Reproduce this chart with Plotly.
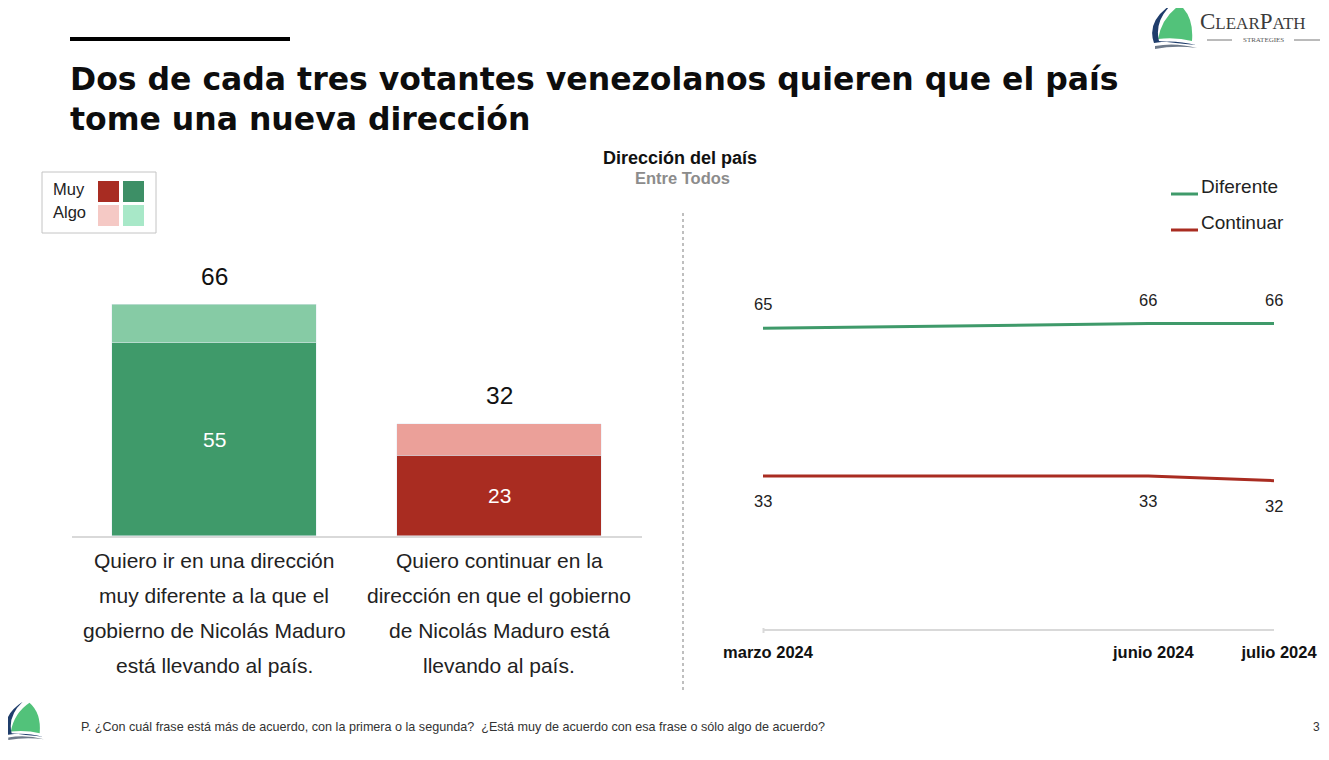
import plotly.graph_objects as go

# ---------------- data ----------------
bar_categories = [
    "Quiero ir en una dirección<br>muy diferente a la que el<br>gobierno de Nicolás Maduro<br>está llevando al país.",
    "Quiero continuar en la<br>dirección en que el gobierno<br>de Nicolás Maduro está<br>llevando al país.",
]
bar_muy = [55, 23]
bar_total = [66, 32]
bar_algo = [t - m for t, m in zip(bar_total, bar_muy)]

line_dates = ["2024-03-01", "2024-06-01", "2024-07-01"]
line_date_labels = ["marzo 2024", "junio 2024", "julio 2024"]
line_diferente = [65, 66, 66]
line_continuar = [33, 33, 32]

title_lines = ["Dos de cada tres votantes venezolanos quieren que el país",
               "tome una nueva dirección"]
chart_title = "Dirección del país"
chart_subtitle = "Entre Todos"
footnote = ("P. ¿Con cuál frase está más de acuerdo, con la primera o la segunda?  "
            "¿Está muy de acuerdo con esa frase o sólo algo de acuerdo?")
page_number = "3"

# ---------------- style ----------------
OFF = 8                       # page body margin
W, H = 1329 - OFF, 760 - OFF
FONT = "Liberation Sans, Arial, sans-serif"
GREEN_D, GREEN_L = "#3f9a6a", "#86cba5"
RED_D, RED_L = "#a92c21", "#eba099"
LEG_GREEN_D, LEG_GREEN_L = "#3d8f66", "#a8e8c8"
LEG_RED_D, LEG_RED_L = "#a82c22", "#f5c9c5"


def px(x):
    return (x - OFF) / W


def py(y):
    return 1 - (y - OFF) / H


def path_px(cmds):
    out = []
    for c in cmds:
        if isinstance(c, str):
            out.append(c)
        else:
            out.append(f"{px(c[0]):.5f},{py(c[1]):.5f}")
    return " ".join(out)


def text_at(x, y, text, size, color="#222", xanchor="center", family=FONT, **kw):
    return dict(x=px(x), y=py(y), xref="paper", yref="paper", text=text, showarrow=False,
                xanchor=xanchor, yanchor="middle", font=dict(family=family, size=size, color=color), **kw)


fig = go.Figure()

# bars
fig.add_trace(go.Bar(x=[0, 1], y=bar_muy, marker_color=[GREEN_D, RED_D],
                     xaxis="x", yaxis="y", showlegend=False, hoverinfo="skip"))
fig.add_trace(go.Bar(x=[0, 1], y=bar_algo, marker_color=[GREEN_L, RED_L],
                     xaxis="x", yaxis="y", showlegend=False, hoverinfo="skip"))

# lines
fig.add_trace(go.Scatter(x=line_dates, y=line_diferente, mode="lines",
                         line=dict(color=GREEN_D, width=3), xaxis="x2", yaxis="y2",
                         showlegend=False, hoverinfo="skip"))
fig.add_trace(go.Scatter(x=line_dates, y=line_continuar, mode="lines",
                         line=dict(color=RED_D, width=3), xaxis="x2", yaxis="y2",
                         showlegend=False, hoverinfo="skip"))

ann = []
# bar labels
for i, (m, t) in enumerate(zip(bar_muy, bar_total)):
    ann.append(dict(x=i, y=t, xref="x", yref="y", text=str(t), showarrow=False,
                    xanchor="center", yanchor="middle",
                    yshift=28, font=dict(family=FONT, size=24.5, color="#111")))
    ann.append(dict(x=i, y=m / 2, xref="x", yref="y", text=str(m), showarrow=False,
                    xanchor="center", yanchor="middle",
                    font=dict(family=FONT, size=21, color="white")))
    for k, line in enumerate(bar_categories[i].split("<br>")):
        ann.append(dict(x=i, y=0, xref="x", yref="y", text=line, showarrow=False,
                        xanchor="center", yanchor="middle", yshift=-(24 + 35.3 * k),
                        font=dict(family=FONT, size=21, color="#222")))

# line labels
for d, v in zip(line_dates, line_diferente):
    ann.append(dict(x=d, y=v, xref="x2", yref="y2", text=str(v), showarrow=False,
                    xanchor="center", yanchor="middle",
                    yshift=24, font=dict(family=FONT, size=16.5, color="#222")))
for d, v in zip(line_dates, line_continuar):
    ann.append(dict(x=d, y=v, xref="x2", yref="y2", text=str(v), showarrow=False,
                    xanchor="center", yanchor="middle",
                    yshift=-25, font=dict(family=FONT, size=16.5, color="#222")))

# titles
TFONT = "DejaVu Sans, sans-serif"
ann.append(text_at(68, 79, "<b>" + title_lines[0] + "</b>", 31.5, "#0d0d0d", "left", TFONT))
ann.append(text_at(68, 119, "<b>" + title_lines[1] + "</b>", 31.5, "#0d0d0d", "left", TFONT))
ann.append(text_at(680, 158, "<b>" + chart_title + "</b>", 18, "#111"))
ann.append(text_at(682, 178, "<b>" + chart_subtitle + "</b>", 16.5, "#8c8c8c"))

# left legend
ann.append(text_at(51, 189, "Muy", 16.5, "#222", "left"))
ann.append(text_at(51, 212, "Algo", 16.5, "#222", "left"))
# right legend
ann.append(text_at(1199, 187, "Diferente", 19, "#222", "left"))
ann.append(text_at(1199, 223, "Continuar", 19, "#222", "left"))

# footer
ann.append(text_at(79, 727, footnote, 12.6, "#333", "left"))
ann.append(text_at(1316, 727, page_number, 12, "#333"))

# logo text
ann.append(text_at(1198, 22,
                   "C<span style='font-size:17px'>LEAR</span>P<span style='font-size:17px'>ATH</span>",
                   23, "#3b3b3b", "left", "Liberation Serif, serif"))
ann.append(text_at(1263, 40, "STRATEGIES", 7, "#555", "center", "Liberation Serif, serif"))

shapes = []
# black rule
shapes.append(dict(type="rect", xref="paper", yref="paper", x0=px(70), x1=px(290), y0=py(41), y1=py(37),
                   fillcolor="#000", line=dict(width=0)))
# dashed separator
shapes.append(dict(type="line", xref="paper", yref="paper", x0=px(683), x1=px(683), y0=py(213), y1=py(690),
                   line=dict(color="#ababab", width=1.5, dash="dot")))
# left legend box and squares
shapes.append(dict(type="rect", xref="paper", yref="paper", x0=px(42), x1=px(156), y0=py(233), y1=py(172),
                   line=dict(color="#c4c4c4", width=1), fillcolor="rgba(0,0,0,0)"))
for (x0, y0, c) in [(98, 181, LEG_RED_D), (123, 181, LEG_GREEN_D), (98, 205, LEG_RED_L), (123, 205, LEG_GREEN_L)]:
    shapes.append(dict(type="rect", xref="paper", yref="paper", x0=px(x0), x1=px(x0 + 21), y0=py(y0 + 21),
                       y1=py(y0), fillcolor=c, line=dict(width=0)))
# right legend lines
shapes.append(dict(type="line", xref="paper", yref="paper", x0=px(1171), x1=px(1198), y0=py(194), y1=py(194),
                   line=dict(color=GREEN_D, width=3)))
shapes.append(dict(type="line", xref="paper", yref="paper", x0=px(1171), x1=px(1198), y0=py(230), y1=py(230),
                   line=dict(color=RED_D, width=3)))
# small tick at the start of the line-chart axis
shapes.append(dict(type="line", xref="paper", yref="paper", x0=px(763.5), x1=px(763.5), y0=py(628), y1=py(633),
                   line=dict(color="#d9d9d9", width=2)))
# STRATEGIES rules
shapes.append(dict(type="line", xref="paper", yref="paper", x0=px(1207), x1=px(1232), y0=py(40), y1=py(40),
                   line=dict(color="#777", width=1)))
shapes.append(dict(type="line", xref="paper", yref="paper", x0=px(1294), x1=px(1320), y0=py(40), y1=py(40),
                   line=dict(color="#777", width=1)))


def logo(ox, oy, s):
    sail = path_px(["M", (ox + 8 * s, oy + 36 * s), "Q", (ox + 12 * s, oy + 14 * s), (ox + 30 * s, oy + 2 * s),
                    "Q", (ox + 44 * s, oy + 14 * s), (ox + 42 * s, oy + 38 * s),
                    "Q", (ox + 26 * s, oy + 34 * s), (ox + 8 * s, oy + 36 * s), "Z"])
    swoosh = path_px(["M", (ox + 22 * s, oy + 1 * s), "Q", (ox - 4 * s, oy + 18 * s), (ox + 4 * s, oy + 40 * s),
                      "Q", (ox + 22 * s, oy + 36 * s), (ox + 46 * s, oy + 42 * s),
                      "Q", (ox + 24 * s, oy + 40 * s), (ox + 9 * s, oy + 38 * s),
                      "Q", (ox + 4 * s, oy + 18 * s), (ox + 22 * s, oy + 1 * s), "Z"])
    swoosh2 = path_px(["M", (ox + 5 * s, oy + 43 * s), "Q", (ox + 25 * s, oy + 39 * s), (ox + 47 * s, oy + 45 * s),
                       "Q", (ox + 25 * s, oy + 42 * s), (ox + 5 * s, oy + 46 * s), "Z"])
    return [
        dict(type="path", xref="paper", yref="paper", path=sail, fillcolor="#52c27a", line=dict(width=0)),
        dict(type="path", xref="paper", yref="paper", path=swoosh, fillcolor="#1f3d6b", line=dict(width=0)),
        dict(type="path", xref="paper", yref="paper", path=swoosh2, fillcolor="#6e7a8a", line=dict(width=0)),
    ]


shapes += logo(1150, 3, 1.0)
shapes += logo(4, 701, 0.85)

fig.update_layout(
    width=W, height=H, margin=dict(l=0, r=0, t=0, b=0, autoexpand=False),
    paper_bgcolor="white", plot_bgcolor="white",
    barmode="stack", bargap=0.284,
    annotations=ann, shapes=shapes,
    xaxis=dict(domain=[px(71.5), px(641.5)], range=[-0.5, 1.5], showticklabels=False, showgrid=False,
               zeroline=False, showline=True, linecolor="#d9d9d9", linewidth=2, fixedrange=True),
    yaxis=dict(domain=[py(536), py(255.2)], range=[0, 80], visible=False, fixedrange=True),
    xaxis2=dict(domain=[px(763), px(1274)], range=[line_dates[0], line_dates[-1]], type="date",
                tickvals=line_dates, ticktext=line_date_labels, showgrid=False, zeroline=False,
                showline=True, linecolor="#d9d9d9", linewidth=2, anchor="y2", ticks="",
                ticklabelstandoff=8, ticklabelshift=5,
                tickfont=dict(family=FONT, size=16.5, color="#111", weight="bold"),
                fixedrange=True),
    yaxis2=dict(domain=[py(628.5), py(212.7)], range=[0, 90], visible=False, anchor="x2", fixedrange=True),
    font=dict(family=FONT),
)

fig.write_html("out.html")
